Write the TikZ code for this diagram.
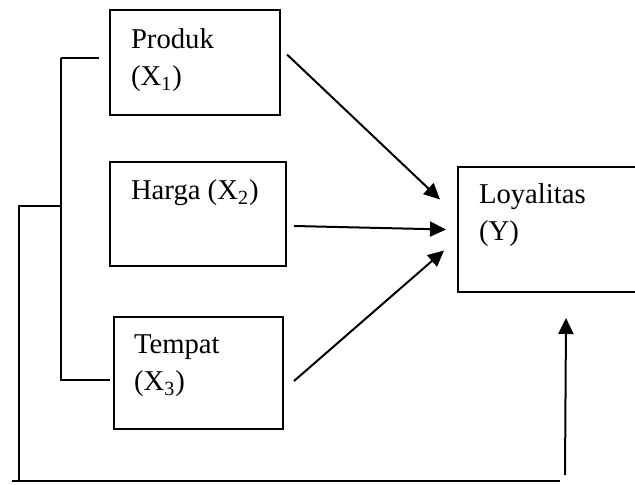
\documentclass[tikz,border=0pt]{standalone}
\usepackage{fontspec}
\setmainfont{Liberation Serif}
\usetikzlibrary{arrows.meta}

\begin{document}
\begin{tikzpicture}[x=0.5pt,y=-0.5pt,line width=1pt,
  >={Triangle[length=8pt,width=7.5pt]},
  var node/.style={draw,rectangle,inner sep=0pt,anchor=north west},
  var text/.style={anchor=north west,align=left,inner sep=0pt,
  font=\fontsize{14.35}{18.5}\selectfont}]

  \clip (0,0) rectangle (635,485);

  \node[var node,minimum width=85pt,minimum height=52.5pt] (prod) at (109,9) {};
  \node[var node,minimum width=88pt,minimum height=52pt] (harga) at (109,161) {};
  \node[var node,minimum width=84.5pt,minimum height=56pt] (tempat) at (113,316) {};
  \node[var node,minimum width=110pt,minimum height=62.5pt] (loy) at (457,166) {};

  \node[var text] (prodtxt) at ([shift={(21,19)}]prod.north west) {Produk\\(X\textsubscript{1})};
  \node[var text] (hargatxt) at ([shift={(21,18)}]harga.north west) {Harga (X\textsubscript{2})};
  \node[var text] (tempattxt) at ([shift={(20,18)}]tempat.north west) {Tempat\\(X\textsubscript{3})};
  \node[var text] (loytxt) at ([shift={(21,17)}]loy.north west) {Loyalitas\\(Y)};

  % bracket joining the three variables
  \coordinate (top) at (61,58);
  \coordinate (bot) at (61,380);
  \coordinate (mid) at (61,206);
  \coordinate (far) at (19,206);
  \coordinate (floor) at (19,481);
  \coordinate (rise) at (565,481);

  \draw (top) -- ++(38,0);
  \draw (top) -- (bot) -- ++(49,0);
  \draw (mid) -- (far) -- (floor);
  \draw (floor) -- ++(-7,0);
  \draw (floor) -- ++(541,0);

  \path[->]
    ([shift={(6,-8)}]prod.east) edge ([shift={(-17,-30)}]loy.west)
    ([shift={(7,12)}]harga.east) edge ([shift={(-11,0)}]loy.west)
    ([shift={(10,8)}]tempat.east) edge ([shift={(-13,21)}]loy.west)
    ([yshift=3]rise) edge ([shift={(-2,25)}]loy.south);
\end{tikzpicture}
\end{document}
